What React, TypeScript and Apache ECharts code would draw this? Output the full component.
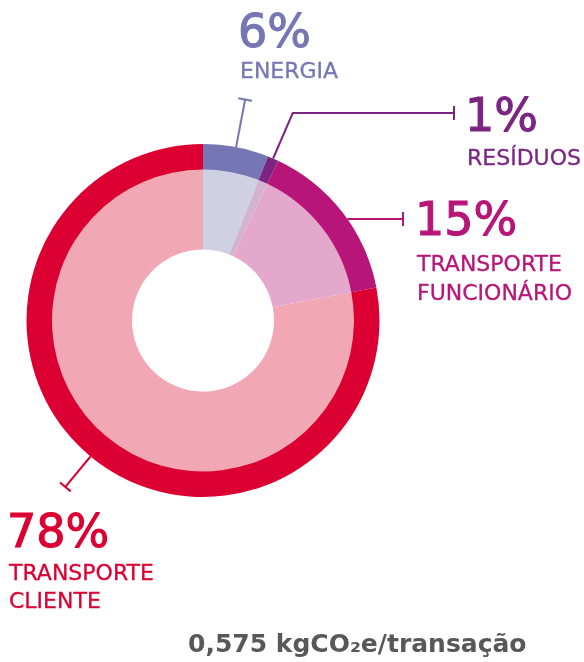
import React, { useEffect, useRef } from "react";
import * as echarts from "echarts";

const categories = ["Energia", "Resíduos", "Transporte funcionário", "Transporte cliente"];
const shares = [6, 1, 15, 78];
const percentLabels = ["6%", "1%", "15%", "78%"];
const nameLabels = [["ENERGIA"], ["RESÍDUOS"], ["TRANSPORTE", "FUNCIONÁRIO"], ["TRANSPORTE", "CLIENTE"]];
const outerColors = ["#7676B4", "#7A2582", "#B81579", "#DC0032"];
const innerColors = ["#CFD0E4", "#D3B3D0", "#E3A8CB", "#F2A7B5"];
const footerText = "0,575 kgCO₂e/transação";

const CX = 203;
const CY = 320.5;
const R_HOLE = 71;
const R_MID = 151;
const R_OUT = 176.5;
const START = 90;

const pt = (r: number, deg: number): [number, number] => {
  const a = (deg * Math.PI) / 180;
  return [CX + r * Math.sin(a), CY - r * Math.cos(a)];
};

export default function App() {
  const ref = useRef<HTMLDivElement>(null);
  useEffect(() => {
    if (!ref.current) return;
    const chart = echarts.init(ref.current, null, { renderer: "svg" });
    const total = shares.reduce((a, b) => a + b, 0);
    const mids: number[] = [];
    let acc = 0;
    shares.forEach((s) => {
      mids.push(((acc + s / 2) / total) * 360);
      acc += s;
    });

    const lineStyle = (c: string) => ({ stroke: c, lineWidth: 2 });
    const graphics: any[] = [];
    const cap = (p: [number, number], dirDeg: number, c: string, len = 14) => {
      const a = (dirDeg * Math.PI) / 180;
      const px = Math.cos(a);
      const py = Math.sin(a);
      graphics.push({
        type: "line",
        shape: { x1: p[0] - (px * len) / 2, y1: p[1] - (py * len) / 2, x2: p[0] + (px * len) / 2, y2: p[1] + (py * len) / 2 },
        style: lineStyle(c),
      });
    };

    // Energia: radial leader
    {
      const c = outerColors[0];
      const a = pt(R_OUT, mids[0]);
      const b = pt(225, mids[0]);
      graphics.push({ type: "line", shape: { x1: a[0], y1: a[1], x2: b[0], y2: b[1] }, style: lineStyle(c) });
      cap(b, mids[0], c);
    }
    // Resíduos: radial then horizontal
    {
      const c = outerColors[1];
      const a = pt(R_OUT, mids[1]);
      const b = pt(226, mids[1]);
      graphics.push({ type: "polyline", shape: { points: [a, b, [454, b[1]]] }, style: { ...lineStyle(c), fill: null } });
      cap([454, b[1]], 90, c);
    }
    // Transporte funcionário: horizontal
    {
      const c = outerColors[2];
      const y = 219;
      const x0 = CX + Math.sqrt(R_OUT * R_OUT - (CY - y) * (CY - y));
      graphics.push({ type: "line", shape: { x1: x0, y1: y, x2: 403, y2: y }, style: lineStyle(c) });
      cap([403, y], 90, c);
    }
    // Transporte cliente: radial
    {
      const c = outerColors[3];
      const a = pt(R_OUT, mids[3]);
      const b = pt(216, mids[3]);
      graphics.push({ type: "line", shape: { x1: a[0], y1: a[1], x2: b[0], y2: b[1] }, style: lineStyle(c) });
      cap(b, mids[3], c);
    }

    const labelPos = [
      { x: 238, pctY: 31, lines: [70.5] },
      { x: 465, pctY: 115, lines: [157] },
      { x: 415, pctY: 218.5, lines: [263.3, 292.8] },
      { x: 7, pctY: 531, lines: [572, 600.5] },
    ];
    labelPos.forEach((lp, i) => {
      graphics.push({
        type: "text",
        x: lp.x,
        y: lp.pctY,
        style: {
          text: percentLabels[i],
          fill: outerColors[i],
          stroke: outerColors[i],
          lineWidth: 1.1,
          font: "46px 'DejaVu Sans'",
          align: "left",
          verticalAlign: "middle",
        },
      });
      nameLabels[i].forEach((t, j) => {
        graphics.push({
          type: "text",
          x: lp.x + 2,
          y: lp.lines[j],
          style: {
            text: t,
            fill: outerColors[i],
            stroke: outerColors[i],
            lineWidth: 0.3,
            font: "22px 'DejaVu Sans'",
            align: "left",
            verticalAlign: "middle",
          },
        });
      });
    });
    graphics.push({
      type: "text",
      x: 188,
      y: 643,
      style: {
        text: footerText,
        fill: "#58585A",
        font: "bold 25px 'DejaVu Sans'",
        align: "left",
        verticalAlign: "middle",
      },
    });

    chart.setOption({
      animation: false,
      series: [
        {
          type: "pie",
          center: [CX, CY],
          radius: [R_HOLE, R_MID + 1],
          startAngle: START,
          clockwise: true,
          silent: true,
          label: { show: false },
          labelLine: { show: false },
          itemStyle: { borderWidth: 0 },
          data: categories.map((n, i) => ({ name: n, value: shares[i], itemStyle: { color: innerColors[i] } })),
        },
        {
          type: "pie",
          center: [CX, CY],
          radius: [R_MID, R_OUT],
          startAngle: START,
          clockwise: true,
          silent: true,
          label: { show: false },
          labelLine: { show: false },
          itemStyle: { borderWidth: 0 },
          data: categories.map((n, i) => ({ name: n, value: shares[i], itemStyle: { color: outerColors[i] } })),
        },
      ],
      graphic: graphics,
    });
    return () => chart.dispose();
  }, []);
  return <div ref={ref} style={{ position: "fixed", left: 0, top: 0, width: 584, height: 662 }} />;
}
